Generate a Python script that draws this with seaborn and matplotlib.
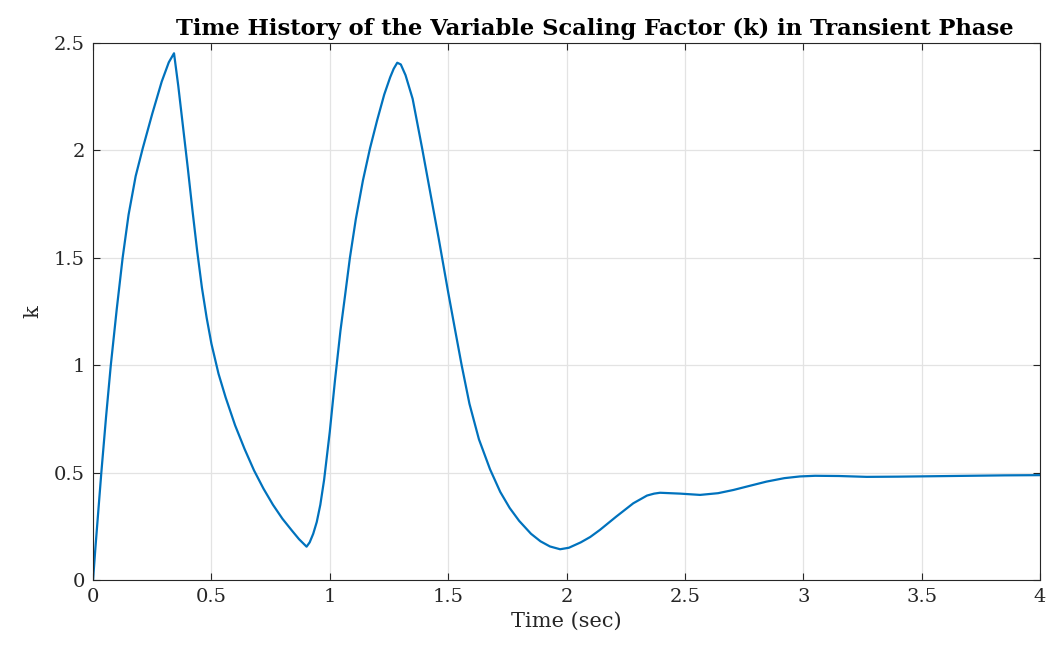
import numpy as np
import pandas as pd
import matplotlib
matplotlib.use("Agg")
import matplotlib.pyplot as plt
import seaborn as sns

# Time samples (s) and scaling factor k during the transient
time_s = [0.000, 0.010, 0.020, 0.035, 0.055, 0.075, 0.100, 0.125, 0.150, 0.180,
          0.210, 0.250, 0.290, 0.320, 0.342, 0.360, 0.380, 0.400, 0.420, 0.440,
          0.460, 0.480, 0.500, 0.530, 0.560, 0.600, 0.640, 0.680, 0.720, 0.760,
          0.800, 0.840, 0.870, 0.902, 0.915, 0.930, 0.945, 0.960, 0.976,
          1.000, 1.022, 1.045, 1.064, 1.085, 1.110, 1.140, 1.170, 1.200, 1.230,
          1.255, 1.270, 1.285, 1.300, 1.320, 1.350, 1.390, 1.425, 1.460, 1.500,
          1.530, 1.557, 1.590, 1.630, 1.677, 1.720, 1.760, 1.800, 1.850, 1.890,
          1.930, 1.973, 2.010, 2.060, 2.100, 2.141, 2.210, 2.282, 2.340, 2.370,
          2.395, 2.480, 2.564, 2.640, 2.705, 2.780, 2.845, 2.920, 2.986, 3.050,
          3.150, 3.268, 3.400, 3.550, 3.700, 3.850, 4.000]
k_values = [0.000, 0.150, 0.290, 0.500, 0.760, 1.000, 1.260, 1.500, 1.700, 1.880,
            2.010, 2.170, 2.320, 2.410, 2.452, 2.300, 2.110, 1.920, 1.720, 1.530,
            1.360, 1.220, 1.100, 0.960, 0.850, 0.720, 0.610, 0.510, 0.425, 0.350,
            0.285, 0.230, 0.190, 0.155, 0.175, 0.215, 0.270, 0.350, 0.466,
            0.690, 0.930, 1.160, 1.320, 1.500, 1.680, 1.860, 2.010, 2.140, 2.260,
            2.340, 2.380, 2.408, 2.400, 2.350, 2.240, 2.010, 1.800, 1.590, 1.340,
            1.160, 1.000, 0.820, 0.655, 0.515, 0.410, 0.335, 0.275, 0.215, 0.180,
            0.156, 0.143, 0.150, 0.175, 0.200, 0.233, 0.295, 0.357, 0.393, 0.402,
            0.406, 0.402, 0.396, 0.404, 0.419, 0.440, 0.458, 0.474, 0.482, 0.485,
            0.484, 0.480, 0.481, 0.483, 0.485, 0.487, 0.488]

x_ticks = [0, 0.5, 1, 1.5, 2, 2.5, 3, 3.5, 4]
x_tick_labels = ["0", "0.5", "1", "1.5", "2", "2.5", "3", "3.5", "4"]
y_ticks = [0, 0.5, 1, 1.5, 2, 2.5]
y_tick_labels = ["0", "0.5", "1", "1.5", "2", "2.5"]

df = pd.DataFrame({"Time (sec)": time_s, "k": k_values})

sns.set_theme(style="ticks")
plt.rcParams["font.family"] = ["DejaVu Serif"]

fig = plt.figure(figsize=(10.61, 6.56), dpi=100)
ax = fig.add_axes([0.0877, 0.1159, 0.8925, 0.8186])

sns.lineplot(data=df, x="Time (sec)", y="k", ax=ax, color="#0072BD",
             linewidth=1.6, sort=False)

ax.set_xlim(0, 4)
ax.set_ylim(0, 2.5)
ax.set_xticks(x_ticks)
ax.set_xticklabels(x_tick_labels)
ax.set_yticks(y_ticks)
ax.set_yticklabels(y_tick_labels)

ax.grid(True, color="#e3e3e3", linewidth=0.9)
ax.set_axisbelow(True)
for side in ["top", "right", "bottom", "left"]:
    ax.spines[side].set_visible(True)
    ax.spines[side].set_color("#262626")
    ax.spines[side].set_linewidth(0.8)

ax.tick_params(axis="both", which="both", direction="in", length=5,
               width=0.8, color="#262626", top=True, right=True,
               labelsize=14, labelcolor="#262626", pad=6)

ax.set_xlabel("Time (sec)", fontsize=15, color="#262626", labelpad=4)
ax.set_ylabel("k", fontsize=15, color="#262626", labelpad=8)
ax.set_title("Time History of the Variable Scaling Factor (k) in Transient Phase",
             fontsize=16.3, fontweight="bold", color="#000000", pad=6, x=0.53)

fig.savefig("out.png", dpi=100)
